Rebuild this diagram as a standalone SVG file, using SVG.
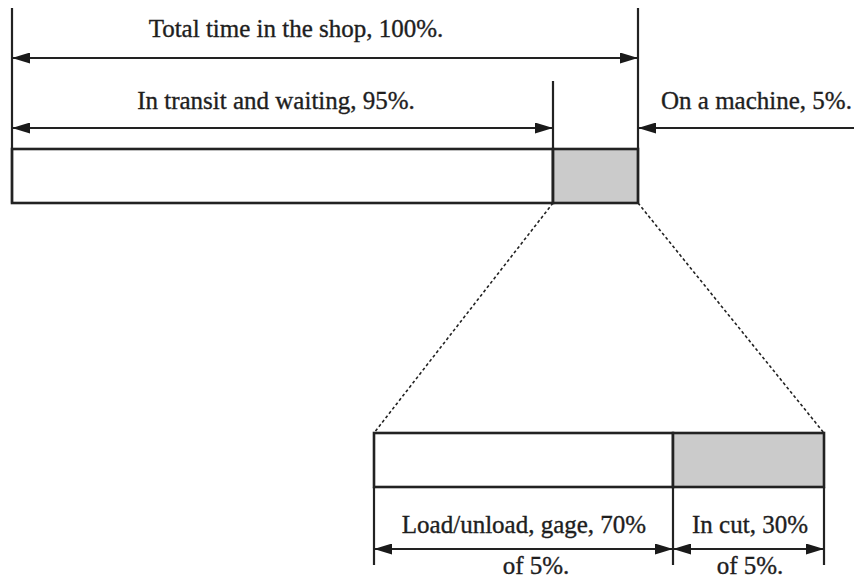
<svg xmlns="http://www.w3.org/2000/svg" width="854" height="580" viewBox="0 0 854 580">
  <defs>
    <marker id="arrow" markerUnits="userSpaceOnUse" markerWidth="18" markerHeight="11" refX="18" refY="5.5" orient="auto-start-reverse" viewBox="0 0 18 11">
      <path d="M0,0 L18,5.5 L0,11 z" fill="#1a1a1a"/>
    </marker>
    <style>
      .lbl { font-family: "Liberation Serif", "Times New Roman", serif; font-size: 25px; fill: #1e1e1e; stroke: #1e1e1e; stroke-width: 0.35; }
      .box { fill: #fff; stroke: #222; stroke-width: 2.6; }
      .busy { fill: #cbcbcb; stroke: #222; stroke-width: 2.6; }
      .ext { stroke: #222; stroke-width: 2.2; fill: none; }
      .dim { stroke: #222; stroke-width: 2.2; fill: none; }
      .zoom { stroke: #222; stroke-width: 1.6; fill: none; stroke-dasharray: 3 2.5; }
    </style>
  </defs>

  <!-- overall time bar -->
  <g id="shop-bar">
    <rect class="box" x="12" y="149" width="541" height="54"/>
    <rect class="busy" x="553" y="149" width="85" height="54"/>
  </g>

  <!-- machine time breakdown bar -->
  <g id="machine-bar">
    <rect class="box" x="374" y="433" width="299" height="54"/>
    <rect class="busy" x="673" y="433" width="151" height="54"/>
  </g>

  <g id="connectors">
    <!-- extension lines -->
    <line class="ext" x1="12" y1="8" x2="12" y2="203"/>
    <line class="ext" x1="638" y1="8" x2="638" y2="203"/>
    <line class="ext" x1="553" y1="81" x2="553" y2="203"/>
    <line class="ext" x1="374" y1="487" x2="374" y2="565"/>
    <line class="ext" x1="673" y1="487" x2="673" y2="565"/>
    <line class="ext" x1="824" y1="487" x2="824" y2="565"/>

    <!-- dimension arrows -->
    <line class="dim" x1="12" y1="58" x2="638" y2="58" marker-start="url(#arrow)" marker-end="url(#arrow)"/>
    <line class="dim" x1="12" y1="128" x2="553" y2="128" marker-start="url(#arrow)" marker-end="url(#arrow)"/>
    <line class="dim" x1="854" y1="128" x2="638" y2="128" marker-end="url(#arrow)"/>
    <line class="dim" x1="374" y1="549" x2="673" y2="549" marker-start="url(#arrow)" marker-end="url(#arrow)"/>
    <line class="dim" x1="673" y1="549" x2="824" y2="549" marker-start="url(#arrow)" marker-end="url(#arrow)"/>

    <!-- expansion of the machine share -->
    <line class="zoom" x1="553" y1="203" x2="374" y2="433"/>
    <line class="zoom" x1="638" y1="203" x2="824" y2="433"/>
  </g>

  <g id="labels">
    <text class="lbl" x="296" y="37" text-anchor="middle">Total time in the shop, 100%.</text>
    <text class="lbl" x="276" y="109" text-anchor="middle">In transit and waiting, 95%.</text>
    <text class="lbl" x="661" y="109">On a machine, 5%.</text>
    <text class="lbl" x="524" y="533" text-anchor="middle">Load/unload, gage, 70%</text>
    <text class="lbl" x="536" y="574" text-anchor="middle">of 5%.</text>
    <text class="lbl" x="750" y="533" text-anchor="middle">In cut, 30%</text>
    <text class="lbl" x="750" y="574" text-anchor="middle">of 5%.</text>
  </g>
</svg>
